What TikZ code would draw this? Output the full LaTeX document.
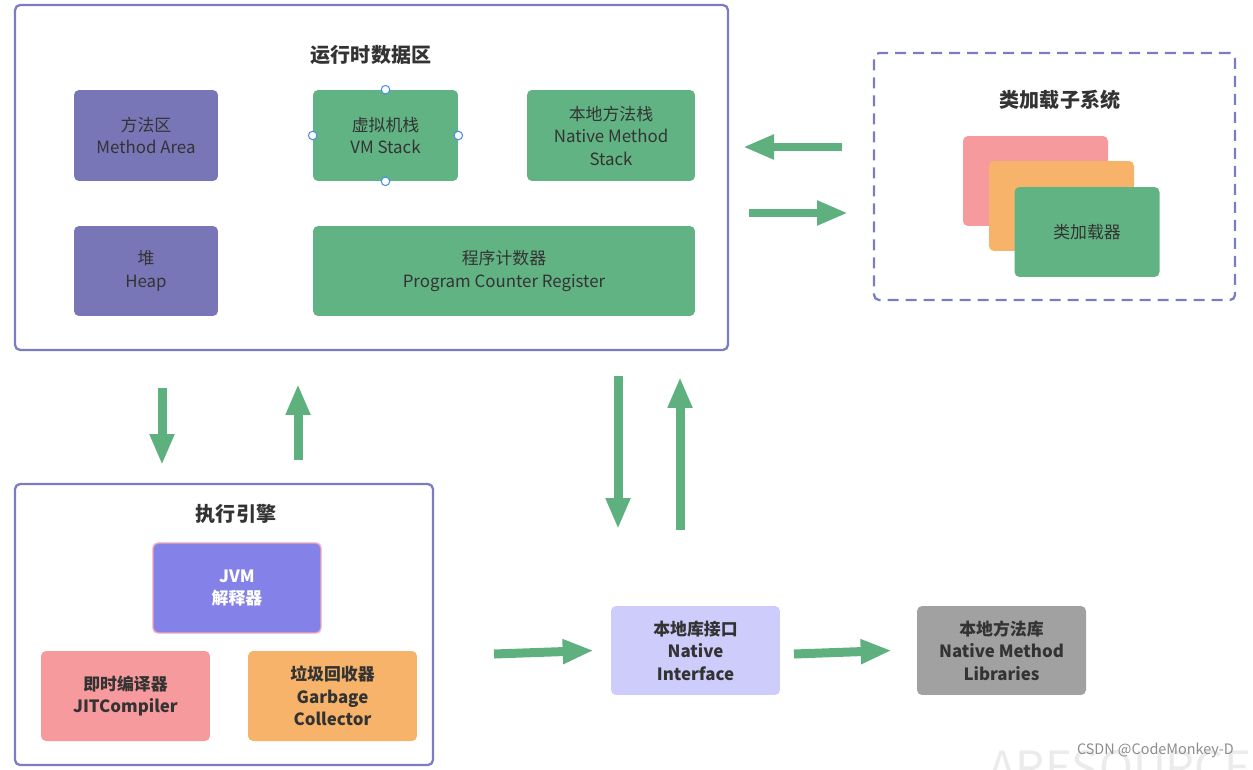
\documentclass[tikz,border=0pt]{standalone}
\usepackage{fontspec}
\setmainfont{Noto Sans CJK SC}
\usetikzlibrary{arrows.meta}

\definecolor{framepurple}{HTML}{7C7CC4}
\definecolor{boxpurple}{HTML}{7976B8}
\definecolor{boxgreen}{HTML}{61B383}
\definecolor{arrowgreen}{HTML}{5FB07F}
\definecolor{textdark}{HTML}{333333}
\definecolor{jvmblue}{HTML}{8482E8}
\definecolor{jvmborder}{HTML}{F2A6B8}
\definecolor{jitpink}{HTML}{F79A9D}
\definecolor{gcorange}{HTML}{F7B36A}
\definecolor{nilavender}{HTML}{CDCCFB}
\definecolor{libgray}{HTML}{A1A1A1}
\definecolor{handleblue}{HTML}{4A8FEA}

\newcommand{\boxfont}{\fontsize{9.6}{12.8}\selectfont}
\newcommand{\hdfont}{\fontsize{11.4}{14}\selectfont\bfseries}

\tikzset{
	box/.style={rounded corners=0.1cm, inner sep=0pt, align=center, text=textdark, font=\boxfont},
	bbox/.style={box, font=\boxfont\bfseries},
	frame/.style={draw=framepurple, line width=1.3pt, rounded corners=0.1cm},
	hd/.style={text=textdark, font=\hdfont},
	handle/.style={circle, draw=handleblue, fill=white, line width=0.6pt, minimum size=0.17cm, inner sep=0pt},
	flow/.style={draw=arrowgreen, line width=0.18cm, -{Triangle[length=0.62cm,width=0.46cm]}}
}

\begin{document}
\begin{tikzpicture}[x=0.02cm, y=-0.02cm]
	\useasboundingbox (0,0) rectangle (1253,770);
	% Runtime data area
		\node[frame, minimum width=14.26cm, minimum height=6.9cm] (rda) at (371.5,177.5) {};
		\node[hd] (rdat) at (371,55) {运行时数据区};
		\node[box, fill=boxpurple, minimum width=2.88cm, minimum height=1.82cm] (ma) at (146,135.5) {方法区\\Method Area};
		\node[box, fill=boxgreen, minimum width=2.9cm, minimum height=1.82cm] (vms) at (385.5,135.5) {虚拟机栈\\VM Stack};
		\node[box, fill=boxgreen, minimum width=3.36cm, minimum height=1.82cm] (nms) at (611,135.5) {本地方法栈\\Native Method\\Stack};
		\node[box, fill=boxpurple, minimum width=2.88cm, minimum height=1.8cm] (heap) at (146,271) {堆\\Heap};
		\node[box, fill=boxgreen, minimum width=7.64cm, minimum height=1.8cm] (pc) at (504,271) {程序计数器\\Program Counter Register};
	% Handles
		\foreach \a in {north,south,west,east}
			\node[handle] (h\a) at (vms.\a) {};
	% Class loader subsystem
		\node[frame, dashed, dash pattern=on 0.22cm off 0.14cm, minimum width=7.22cm, minimum height=4.94cm] (cls) at (1054.5,176.5) {};
		\node[hd] (clst) at (1060,100) {类加载子系统};
		\node[box, fill=jitpink, minimum width=2.9cm, minimum height=1.8cm] (cl1) at (1035.5,181) {};
		\node[box, fill=gcorange, minimum width=2.9cm, minimum height=1.8cm] (cl2) at (1061.5,206) {};
		\node[box, fill=boxgreen, minimum width=2.9cm, minimum height=1.8cm] (cl3) at (1087,232) {类加载器};
	% Execution engine
		\node[frame, minimum width=8.36cm, minimum height=5.62cm] (ee) at (224,624.5) {};
		\node[hd] (eet) at (236,514) {执行引擎};
		\node[bbox, fill=jvmblue, draw=jvmborder, line width=0.8pt, text=white, minimum width=3.36cm, minimum height=1.8cm] (jvm) at (237,588) {JVM\\解释器};
		\node[bbox, fill=jitpink, minimum width=3.38cm, minimum height=1.8cm] (jit) at (125.5,696) {即时编译器\\JITCompiler};
		\node[bbox, fill=gcorange, minimum width=3.38cm, minimum height=1.8cm] (gc) at (332.5,696) {垃圾回收器\\Garbage\\Collector};
	% Native interface and libraries
		\node[bbox, fill=nilavender, minimum width=3.38cm, minimum height=1.78cm] (ni) at (695.5,650.5) {本地库接口\\Native\\Interface};
		\node[bbox, fill=libgray, minimum width=3.38cm, minimum height=1.78cm] (nml) at (1001.5,650.5) {本地方法库\\Native Method\\Libraries};
	% Arrow ends
		\coordinate (a1s) at (842,147);  \coordinate (a1e) at (743,147);
		\coordinate (a2s) at (749,213);  \coordinate (a2e) at (848,213);
		\coordinate (a3s) at (162,388);  \coordinate (a3e) at (162,465);
		\coordinate (a4s) at (298,460);  \coordinate (a4e) at (298,384);
		\coordinate (a5s) at (618,376);  \coordinate (a5e) at (618,529);
		\coordinate (a6s) at (680,530);  \coordinate (a6e) at (680,377);
		\coordinate (a7s) at (494,654);
		\coordinate (a8s) at (794,654);
	% Arrows
		\draw[flow] (a1s) -- (a1e);
		\draw[flow] (a2s) -- (a2e);
		\draw[flow] (a3s) -- (a3e);
		\draw[flow] (a4s) -- (a4e);
		\draw[flow] (a5s) -- (a5e);
		\draw[flow] (a6s) -- (a6e);
		\draw[flow] (a7s) -- ([xshift=-0.34cm]ni.west);
		\draw[flow] (a8s) -- ([xshift=-0.5cm]nml.west);
	% Watermark
		\begin{scope}
			\clip (0,0) rectangle (1253,770);
			\node[anchor=north west, text=black!8, font=\fontsize{26}{30}\selectfont] (wm2) at (982,744) {ARESOURCE};
			\node[anchor=east, text=black!45, font=\fontsize{8.2}{10}\selectfont] (wm1) at (1240,750) {CSDN @CodeMonkey-D};
		\end{scope}
\end{tikzpicture}
\end{document}
